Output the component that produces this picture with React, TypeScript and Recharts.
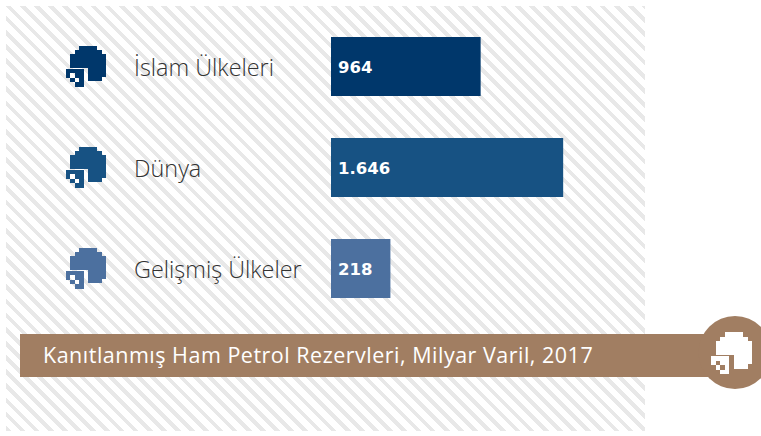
import { BarChart, Bar, Cell, XAxis, YAxis, LabelList } from "recharts";

const categories = ["İslam Ülkeleri", "Dünya", "Gelişmiş Ülkeler"];
const reserves = [964, 1646, 218];
const barColors = ["#00376b", "#175283", "#4c709f"];
const chartTitle = "Kanıtlanmış Ham Petrol Rezervleri, Milyar Varil, 2017";

// bars in the source don't start at zero, the axis starts below it
const AXIS_MIN = -273;
const AXIS_MAX = 2000;

const data = categories.map((name, i) => ({ name, value: reserves[i] }));

// X = big shape, o = small square, drawn a little lower to leave the gap
const ICON_PIXELS = [
  "...XXXX..",
  "..XXXXXX.",
  ".XXXXXXXX",
  ".XXXXXXXX",
  ".XXXXXXXX",
  "oooo.XXXX",
  "o.oo.XXXX",
  ".o.o.XXX.",
  "..oo.....",
];

function PixelIcon({ x, y, size, color }: { x: number; y: number; size: number; color: string }) {
  return (
    <g fill={color} shapeRendering="crispEdges">
      {ICON_PIXELS.flatMap((row, r) =>
        row.split("").map((c, col) => {
          if (c === ".") return null;
          const shift = c === "o" ? 1 : 0;
          const x0 = Math.round(x + col * size);
          const x1 = Math.round(x + (col + 1) * size);
          const y0 = Math.round(y + r * size) + shift;
          const y1 = Math.round(y + (r + 1) * size) + shift;
          return <rect key={r + "-" + col} x={x0} y={y0} width={x1 - x0} height={y1 - y0} />;
        })
      )}
    </g>
  );
}

function CategoryTick({ y, payload, index }: any) {
  return (
    <g>
      <PixelIcon x={66} y={y - 21} size={4.45} color={barColors[index]} />
      <text
        x={134}
        y={y + 3}
        dominantBaseline="middle"
        fontFamily="'Open Sans', sans-serif"
        fontWeight={300}
        fontSize={23.4}
        fill="#333333"
      >
        {payload.value}
      </text>
    </g>
  );
}

export default function App() {
  return (
    <div style={{ position: "absolute", left: 0, top: 0, width: 761, height: 436, background: "#fff", overflow: "hidden" }}>
      <div
        style={{
          position: "absolute",
          left: 6,
          top: 6,
          width: 639,
          height: 425,
          background: "repeating-linear-gradient(45deg, #e8e8e8 0 4px, #ffffff 4px 10px)",
        }}
      />
      <div style={{ position: "absolute", left: 0, top: 0 }}>
        <BarChart
          width={761}
          height={436}
          layout="vertical"
          data={data}
          margin={{ top: 16, right: 155, bottom: 117, left: 0 }}
        >
          <XAxis type="number" hide domain={[AXIS_MIN, AXIS_MAX]} />
          <YAxis
            type="category"
            dataKey="name"
            width={331}
            axisLine={false}
            tickLine={false}
            interval={0}
            tick={<CategoryTick />}
          />
          <Bar dataKey={(d: any) => [AXIS_MIN, d.value]} barSize={59} isAnimationActive={false}>
            {data.map((d, i) => (
              <Cell key={d.name} fill={barColors[i]} />
            ))}
            <LabelList
              dataKey="value"
              position="insideLeft"
              offset={7}
              dy={1}
              formatter={(v: any) => Number(v).toLocaleString("tr-TR")}
              style={{ fill: "#ffffff", fontFamily: "'DejaVu Sans', sans-serif", fontWeight: 700, fontSize: 16.5 }}
            />
          </Bar>
        </BarChart>
      </div>
      <div style={{ position: "absolute", left: 20, top: 334, width: 690, height: 43, background: "#a17e62" }} />
      <svg width={761} height={436} style={{ position: "absolute", left: 0, top: 0 }}>
        <circle cx={735} cy={352.5} r={36.5} fill="#a17e62" />
        <PixelIcon x={711} y={332} size={4.6} color="#ffffff" />
        <text
          x={43}
          y={363}
          fontFamily="'Open Sans', sans-serif"
          fontSize={21.5}
          fontWeight={500}
          letterSpacing={0.5}
          fill="#ffffff"
        >
          {chartTitle}
        </text>
      </svg>
    </div>
  );
}
